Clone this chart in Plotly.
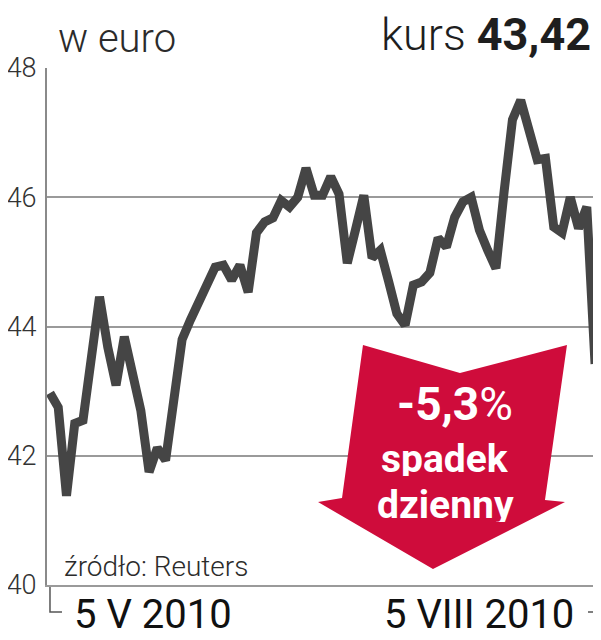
import plotly.graph_objects as go

# Trading days 5 V 2010 - 5 VIII 2010
dates = [
    "2010-05-05", "2010-05-06", "2010-05-07", "2010-05-10", "2010-05-11", "2010-05-12", "2010-05-13",
    "2010-05-14", "2010-05-17", "2010-05-18", "2010-05-19", "2010-05-20", "2010-05-21", "2010-05-24",
    "2010-05-25", "2010-05-26", "2010-05-27", "2010-05-28", "2010-05-31",
    "2010-06-01", "2010-06-02", "2010-06-03", "2010-06-04", "2010-06-07", "2010-06-08", "2010-06-09",
    "2010-06-10", "2010-06-11", "2010-06-14", "2010-06-15", "2010-06-16", "2010-06-17", "2010-06-18",
    "2010-06-21", "2010-06-22", "2010-06-23", "2010-06-24", "2010-06-25", "2010-06-28", "2010-06-29",
    "2010-06-30",
    "2010-07-01", "2010-07-02", "2010-07-05", "2010-07-06", "2010-07-07", "2010-07-08", "2010-07-09",
    "2010-07-12", "2010-07-13", "2010-07-14", "2010-07-15", "2010-07-16", "2010-07-19", "2010-07-20",
    "2010-07-21", "2010-07-22", "2010-07-23", "2010-07-26", "2010-07-27", "2010-07-28", "2010-07-29",
    "2010-07-30",
    "2010-08-02", "2010-08-03", "2010-08-04", "2010-08-05",
]

kurs = [
    42.97, 42.75, 41.38, 42.50, 42.55, 43.50, 44.46, 43.68, 43.09, 43.84,
    43.33, 42.70, 41.75, 42.12, 41.93, 42.90, 43.80, 44.10, 44.40, 44.65,
    44.92, 44.95, 44.72, 44.95, 44.53, 45.45, 45.62, 45.68, 45.95, 45.85,
    46.00, 46.45, 46.03, 46.03, 46.32, 46.05, 44.98, 45.50, 46.03, 45.06,
    45.18, 44.70, 44.20, 44.02, 44.64, 44.69, 44.83, 45.37, 45.23, 45.69,
    45.93, 46.00, 45.49, 45.18, 44.90, 46.10, 47.20, 47.50, 47.04, 46.58,
    46.60, 45.54, 45.45, 46.00, 45.52, 45.85, 43.42,
]

y_ticks = [40, 42, 44, 46, 48]
y_tick_labels = ["40", "42", "44", "46", "48"]

title_left = "w euro"
title_right = "kurs <b>43,42</b>"
source = "źródło: Reuters"
start_label = "5 V 2010"
end_label = "5 VIII 2010"
badge_lines = ["<b>-5,3</b>%", "<b>spadek</b>", "<b>dzienny</b>"]

# the page body has an 8px default margin; the figure is sized to fit the window
OFF = 8
W, H = 601 - OFF, 640 - OFF
# plot area in window pixels: x 47..600, y 68..585
L = 47 - OFF
T = 68 - OFF
R = 601 - 600
B = 640 - 585
PW = W - L - R
PH = H - T - B


def px(x):
    return (x - 47) / PW


def py(y):
    return (585 - y) / PH


FONT = "Roboto"
DARK = "#2b2b2b"

fig = go.Figure()
fig.add_trace(go.Scatter(
    x=dates, y=kurs, mode="lines",
    line=dict(color="#454545", width=9),
    hoverinfo="x+y",
))

# red arrow
arrow_pts = [(363, 345), (460, 373), (567, 345), (545, 500), (565, 502),
             (433, 569), (318, 502), (342, 498)]
path = "M " + " L ".join(f"{px(a):.4f},{py(b):.4f}" for a, b in arrow_pts) + " Z"
shapes = [dict(type="path", path=path, xref="paper", yref="paper",
               fillcolor="#CF0C3B", line=dict(width=0), layer="above")]

# brackets at bottom
shapes.append(dict(type="path", xref="paper", yref="paper",
                   path=f"M {px(50):.4f},{py(587):.4f} L {px(50):.4f},{py(612):.4f} L {px(62):.4f},{py(612):.4f}",
                   line=dict(color="#555555", width=1.5)))
shapes.append(dict(type="path", xref="paper", yref="paper",
                   path=f"M {px(599):.4f},{py(587):.4f} L {px(599):.4f},{py(612):.4f} L {px(588):.4f},{py(612):.4f}",
                   line=dict(color="#555555", width=1.5)))

annotations = [
    dict(text=title_left, x=px(56), y=py(38), xref="paper", yref="paper",
         xanchor="left", yanchor="middle", showarrow=False,
         font=dict(family=FONT, size=40, color=DARK, weight=300)),
    dict(text=title_right, x=px(593), y=py(34), xref="paper", yref="paper",
         xanchor="right", yanchor="middle", showarrow=False,
         font=dict(family=FONT, size=45, color="#1e1e1e", weight=300)),
    dict(text=source, x=px(62), y=py(566), xref="paper", yref="paper",
         xanchor="left", yanchor="middle", showarrow=False,
         font=dict(family=FONT, size=28, color=DARK, weight=300)),
    dict(text=start_label, x=px(72), y=py(614), xref="paper", yref="paper",
         xanchor="left", yanchor="middle", showarrow=False,
         font=dict(family=FONT, size=40, color="#111111", weight=400)),
    dict(text=end_label, x=px(576), y=py(614), xref="paper", yref="paper",
         xanchor="right", yanchor="middle", showarrow=False,
         font=dict(family=FONT, size=40, color="#111111", weight=400)),
    dict(text=badge_lines[0], x=px(455), y=py(404), xref="paper", yref="paper",
         xanchor="center", yanchor="middle", showarrow=False,
         font=dict(family=FONT, size=46, color="white")),
    dict(text=badge_lines[1], x=px(445), y=py(459), xref="paper", yref="paper",
         xanchor="center", yanchor="middle", showarrow=False, height=34,
         font=dict(family=FONT, size=39, color="white")),
    dict(text=badge_lines[2], x=px(445), y=py(505), xref="paper", yref="paper",
         xanchor="center", yanchor="middle", showarrow=False, height=34,
         font=dict(family=FONT, size=39, color="white")),
]

fig.update_layout(
    width=W, height=H,
    margin=dict(l=L, r=R, t=T, b=B, pad=0, autoexpand=False),
    paper_bgcolor="white", plot_bgcolor="white",
    showlegend=False,
    shapes=shapes,
    annotations=annotations,
    xaxis=dict(type="category", range=[-0.36, 66.6], showgrid=False,
               showticklabels=False, ticks="", zeroline=False, automargin=False,
               showline=True, linecolor="#9a9a9a", linewidth=2),
    yaxis=dict(range=[40, 48], tickvals=y_ticks, ticktext=y_tick_labels,
               showgrid=True, gridcolor="#9a9a9a", gridwidth=2, automargin=False,
               zeroline=False, showline=True, linecolor="#8a8a8a", linewidth=2,
               ticks="", ticklabelstandoff=3,
               tickfont=dict(family=FONT, size=27, color="#333333", weight=300)),
)

fig.write_html("out.html")
